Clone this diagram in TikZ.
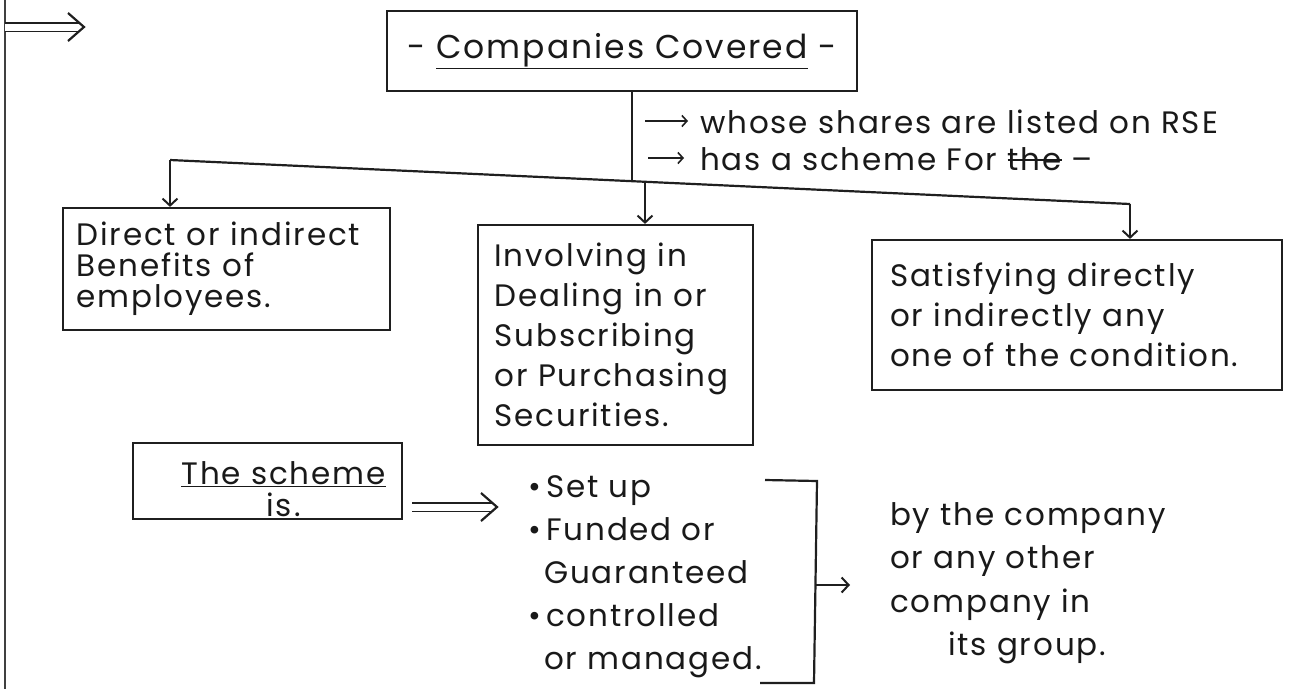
\documentclass[tikz,border=0pt]{standalone}
\usepackage{fontspec}
\setmainfont{Poppins}[LetterSpace=6]
\usetikzlibrary{arrows.meta}
\newcommand\mystrike[1]{\setbox0\hbox{#1}\rlap{\rule[0.3em]{\wd0}{1.6pt}}#1}
\begin{document}
\begin{tikzpicture}[x=1pt,y=-1pt,
  ink/.style={line width=2.2pt, draw=black!88},
  tip/.style={ink, -{Straight Barb[length=7pt,width=15pt,line width=2pt]}},
  smalltip/.style={line width=1.6pt, draw=black!88, -{Straight Barb[length=5pt,width=11pt,line width=1.6pt]}},
  dbl/.style={draw=black!88, line width=1.8pt, double, double distance=7pt},
  head/.style={ink, line join=miter},
  boxed/.style={ink, rectangle, inner sep=0pt, align=left},
  txt/.style={font=\fontsize{31}{31}\selectfont, text=black!90},
]
\useasboundingbox (0,0) rectangle (1293,689);
% page edge
\draw[line width=2pt, draw=black!75] (5,0) -- (5,689);
% top-left double arrow
\coordinate (da1) at (5,27);
\coordinate (da2) at (84,27);
\draw[dbl] (da1) -- ([xshift=-4pt]da2);
\draw[head] ([shift={(-16,-14)}]da2) -- (da2) -- ([shift={(-16,14)}]da2);

% title
\node[boxed, txt, minimum width=470pt, minimum height=80pt, align=center, font=\fontsize{33}{36}\selectfont] (title) at (622,51)
  {- \underline{Companies Covered} -};

% junction line
\coordinate (L) at (170,160);
\coordinate (J) at (632,181);
\coordinate (M) at (645,181.6);
\coordinate (R) at (1130,204);
\draw[ink] (title.south -| J) -- (J);
\draw[ink] (L) -- (R);

% labels under title
\coordinate (a1s) at (645,121);
\coordinate (a1e) at (688,121);
\coordinate (a2s) at (648,158);
\coordinate (a2e) at (684,158);
\draw[smalltip] (a1s) -- (a1e);
\draw[smalltip] (a2s) -- (a2e);
\node[txt, anchor=base west, inner sep=0pt] (l1) at (700,133) {whose shares are listed on RSE};
\node[txt, anchor=base west, inner sep=0pt] (l2) at (700,170) {has a scheme For \mystrike{the} –};

% boxes
\node[boxed, txt, minimum width=327pt, minimum height=122pt, text width=300pt] (b1) at (226.5,269)
  {Direct or indirect\\Benefits of\\employees.};
\node[boxed, txt, minimum width=275pt, minimum height=220pt, text width=242pt, font=\fontsize{31}{40}\selectfont] (b2) at (615.5,335)
  {Involving in\\Dealing in or\\Subscribing\\or Purchasing\\Securities.};
\node[boxed, txt, minimum width=410pt, minimum height=150pt, text width=374pt, font=\fontsize{31}{40}\selectfont] (b3) at (1077,315)
  {Satisfying directly\\or indirectly any\\one of the condition.};

\draw[tip] (L) -- (L |- b1.north);
\draw[tip] (M) -- (M |- b2.north);
\draw[tip] (R) -- (R |- b3.north);

% the scheme box
\node[boxed, txt, minimum width=269pt, anchor=north, align=center, font=\fontsize{31}{32}\selectfont] (b4) at (267.5,442)
  {\hspace*{32pt}\rule{0pt}{41pt}\underline{The scheme}\\\hspace*{32pt}\rule[-3pt]{0pt}{3pt}is.};
\coordinate (da3s) at (412,507);
\coordinate (da3) at (497,507);
\draw[dbl] (da3s) -- ([xshift=-4pt]da3);
\draw[head] ([shift={(-16,-14)}]da3) -- (da3) -- ([shift={(-16,14)}]da3);

% list
\node[txt, anchor=base west, inner sep=0pt, align=left, font=\fontsize{31}{43}\selectfont] (list) at (528,669)
  {\textbullet\,Set up\\\textbullet\,Funded or\\\hspace*{16pt}Guaranteed\\\textbullet\,controlled\\\hspace*{16pt}or managed.};

% bracket
\coordinate (k1) at (765,480);
\coordinate (k2) at (817,481);
\coordinate (k3) at (814,683);
\coordinate (k4) at (760,683);
\draw[ink] (k1) -- (k2) -- (k3) -- (k4);
\coordinate (km) at (815.5,585);
\coordinate (ke) at (850,585);
\draw[tip] (km) -- (ke);

% right text
\node[txt, anchor=base west, inner sep=0pt, align=left, font=\fontsize{31}{43.5}\selectfont] (grp) at (890,655.5)
  {by the company\\or any other\\company in\\\hspace*{58pt}its group.};
\end{tikzpicture}
\end{document}
